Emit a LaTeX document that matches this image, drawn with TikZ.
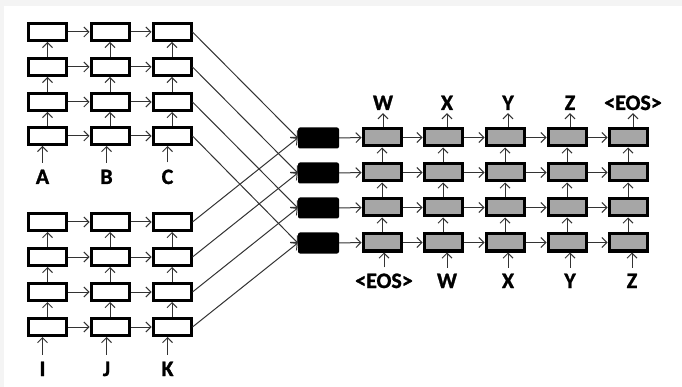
\documentclass[tikz,border=0pt]{standalone}
\usepackage{fontspec}
\setmainfont{Carlito}[BoldFeatures={FakeBold=1.2}]
\usetikzlibrary{arrows.meta}
\definecolor{cellgray}{HTML}{A6A6A6}
\definecolor{framegray}{HTML}{F4F4F4}
\begin{document}
\begin{tikzpicture}[x=1pt,y=-1pt,
  cell/.style={draw=black,line width=3pt,minimum width=38pt,minimum height=17pt,inner sep=0pt,fill=white},
  gcell/.style={cell,fill=cellgray},
  bcell/.style={fill=black,rounded corners=2pt,minimum width=41pt,minimum height=21pt,inner sep=0pt},
  arr/.style={-{Straight Barb[length=5pt,width=10pt]},line width=1pt,draw=black!80},
  lab/.style={font=\bfseries\fontsize{22}{22}\selectfont,inner sep=0pt,text depth=0pt,anchor=base}]
\fill[framegray] (0,0) rectangle (682,387);
\fill[white] (4,6) rectangle (682,387);
\useasboundingbox (0,0) rectangle (682,387);

% encoder grids
\foreach \c/\x in {1/47.5,2/110,3/172}{
  \foreach \r/\y in {1/32,2/67,3/102,4/136}{
    \node[cell] (t\c\r) at (\x,\y) {};
  }
  \foreach \r/\y in {1/222,2/257,3/292,4/327}{
    \node[cell] (l\c\r) at (\x,\y) {};
  }
}
% decoder grid
\foreach \c/\x in {1/382,2/443,3/505,4/567,5/628}{
  \foreach \r/\y in {1/137.5,2/172.5,3/207.5,4/242.5}{
    \node[gcell] (d\c\r) at (\x,\y) {};
  }
}
% black boxes
\foreach \r/\y in {1/138,2/173,3/208,4/243}{
  \node[bcell] (b\r) at (318.5,\y) {};
}

% encoder internal arrows
\foreach \g in {t,l}{
  \foreach \c in {1,2,3}{
    \foreach \r/\s in {2/1,3/2,4/3}{
      \draw[arr] (\g\c\r.north) -- (\g\c\s.south);
    }
  }
  \foreach \c/\d in {1/2,2/3}{
    \foreach \r in {1,2,3,4}{
      \draw[arr] (\g\c\r.east) -- (\g\d\r.west);
    }
  }
}
% decoder internal arrows
\foreach \c in {1,2,3,4,5}{
  \foreach \r/\s in {2/1,3/2,4/3}{
    \draw[arr] (d\c\r.north) -- (d\c\s.south);
  }
}
\foreach \c/\d in {1/2,2/3,3/4,4/5}{
  \foreach \r in {1,2,3,4}{
    \draw[arr] (d\c\r.east) -- (d\d\r.west);
  }
}
% connections to black boxes and from black boxes
\foreach \r in {1,2,3,4}{
  \draw[arr] (t3\r.east) -- (b\r.west);
  \draw[arr] (l3\r.east) -- (b\r.west);
  \draw[arr] (b\r.east) -- (d1\r.west);
}

% encoder input labels
\node[lab] (A) at (42.5,184) {A};
\node[lab] (B) at (106.5,184) {B};
\node[lab] (C) at (167.5,184) {C};
\node[lab] (I) at (42.5,376) {I};
\node[lab] (J) at (106.5,376) {J};
\node[lab] (K) at (167.5,376) {K};
\foreach \n/\b in {A/t14,B/t24,C/t34,I/l14,J/l24,K/l34}{
  \draw[arr] ([yshift=7pt]\n.north) -- (\n.north |- \b.south);
}

% decoder input labels
\node[lab] (iE) at (384,288) {<EOS>};
\node[lab] (iW) at (447,288) {W};
\node[lab] (iX) at (508,288) {X};
\node[lab] (iY) at (570,288) {Y};
\node[lab] (iZ) at (632,288) {Z};
\foreach \n/\b in {iE/d14,iW/d24,iX/d34,iY/d44,iZ/d54}{
  \draw[arr] ([yshift=6pt]\n.north) -- (\n.north |- \b.south);
}
% decoder output labels
\node[lab] (oW) at (383,110) {W};
\node[lab] (oX) at (447,110) {X};
\node[lab] (oY) at (508,110) {Y};
\node[lab] (oZ) at (570,110) {Z};
\node[lab] (oE) at (633,110) {<EOS>};
\foreach \n/\b in {oW/d11,oX/d21,oY/d31,oZ/d41,oE/d51}{
  \draw[arr] (\n.south |- \b.north) -- ([yshift=-3pt]\n.south);
}
\end{tikzpicture}
\end{document}
